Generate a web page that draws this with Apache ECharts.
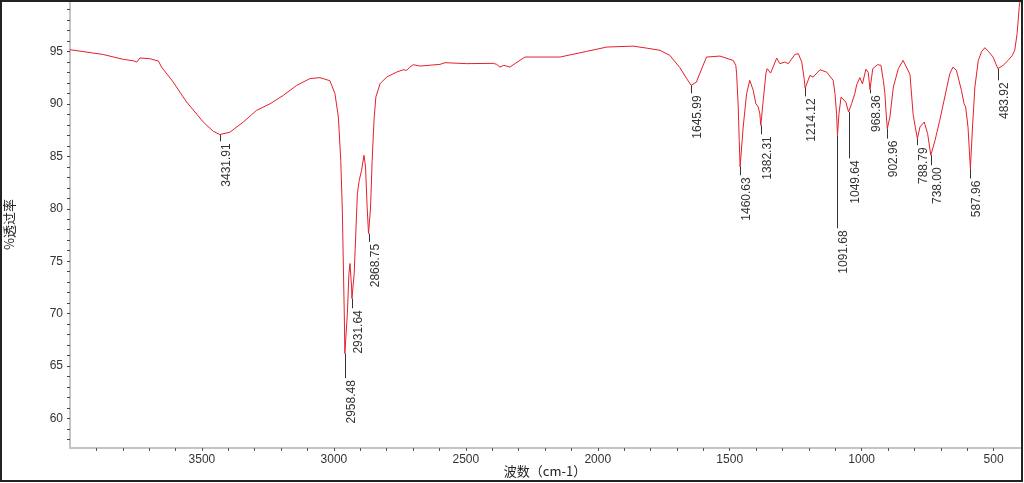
<!DOCTYPE html>
<html>
<head>
<meta charset="utf-8">
<script src="https://cdn.jsdelivr.net/npm/echarts@6/dist/echarts.min.js"></script>
<style>
  html, body { margin: 0; padding: 0; background: #fff; }
  #main { width: 1024px; height: 483px; }
</style>
</head>
<body>
<div id="main"></div>
<script>
// 红外光谱：波数 / 透过率
const wavenumber = [
  4000, 3874, 3798, 3760, 3747, 3735, 3697, 3665, 3653, 3609, 3558, 3495, 3457, 3431.91, 3394, 3343, 3293, 3242,
  3192, 3141, 3091, 3053, 3015, 2996, 2983, 2974, 2968, 2964, 2960, 2958.48, 2949, 2943, 2939, 2933, 2931.64,
  2923, 2916, 2911, 2904, 2895, 2886, 2880, 2874, 2868.75, 2861, 2855, 2848, 2841, 2825, 2800, 2762, 2737, 2724,
  2712, 2699, 2674, 2598, 2579, 2497, 2396, 2383, 2371, 2356, 2333, 2314, 2276, 2219, 2143, 2042, 1966, 1866,
  1815, 1764, 1727, 1689, 1663, 1645.99, 1626, 1619, 1588, 1537, 1487, 1477, 1474, 1468, 1464, 1460.63, 1449,
  1436, 1424, 1411, 1401, 1392, 1386, 1382.31, 1373, 1363, 1358, 1345, 1322, 1310, 1291, 1278, 1253, 1240, 1227,
  1218, 1214.12, 1196, 1184, 1158, 1133, 1108, 1101, 1095, 1091.68, 1086, 1078, 1060, 1049.64, 1038, 1026, 1019,
  1007, 997, 984, 975, 968.36, 958, 940, 927, 918, 912, 908, 902.96, 893, 880, 861, 843, 836, 817, 805, 797,
  788.79, 779, 763, 750, 738.0, 722, 704, 685, 666, 654, 641, 622, 612, 608, 606, 597, 587.96, 580, 571, 558,
  545, 533, 520, 502, 483.92, 464, 445, 429, 420, 411, 403, 400
]
const transmittance = [
  95.16, 94.7, 94.24, 94.1, 93.98, 94.37, 94.3, 94.08, 93.5, 92.08, 90.17, 88.27, 87.38, 87.07, 87.3, 88.27, 89.38, 90.0,
  90.8, 91.76, 92.4, 92.5, 92.2, 90.97, 88.74, 84.6, 79.86, 74.46, 69.1, 66.2, 70.0, 73.83, 74.78, 72.55, 71.45,
  73.83, 78.27, 81.45, 82.71, 83.67, 85.1, 83.98, 80.17, 77.64, 80.17, 84.6, 88.43, 90.65, 91.92, 92.55, 93.03, 93.25, 93.19,
  93.5, 93.73, 93.6, 93.76, 93.92, 93.83, 93.86, 93.76, 93.5, 93.67, 93.5, 93.83, 94.46, 94.46, 94.46, 95.0, 95.41, 95.5,
  95.31, 95.1, 94.62, 93.45, 92.4, 91.76, 92.08, 92.55, 94.46, 94.55, 94.14, 93.67, 92.9, 89.9, 86.5, 83.98, 87.79,
  90.97, 92.24, 91.29, 90.02, 89.7, 89.07, 87.95, 90.33, 92.88, 93.35, 92.93, 94.36, 93.83, 93.98, 93.83, 94.71, 94.78, 93.98,
  92.4, 91.5, 92.71, 92.55, 93.25, 93.03, 92.24, 90.97, 89.0, 87.0, 89.07, 90.65, 90.17, 89.22, 90.02, 90.97, 91.8,
  92.5, 91.9, 93.3, 93.0, 91.35, 93.35, 93.73, 93.67, 92.24, 91.0, 89.38, 87.64, 88.74, 91.6, 93.35, 94.14, 94.14, 92.8, 89.0, 87.8,
  86.68, 87.8, 88.27, 87.16, 85.1, 86.52, 88.43, 90.65, 92.88, 93.5, 93.19, 91.29, 90.02, 89.9, 89.7, 87.79, 83.83, 87.79, 91.6, 94.14,
  95.0, 95.35, 95.0, 94.46, 93.35, 93.67, 94.14, 94.62, 95.1, 96.68, 99.2, 99.8
]

// 峰位标注
const peakWavenumber = [3431.91, 2958.48, 2931.64, 2868.75, 1645.99, 1460.63, 1382.31, 1214.12, 1091.68, 1049.64, 968.36, 902.96, 788.79, 738.00, 587.96, 483.92]
const peakTransmittance = [87.07, 66.2, 71.45, 77.64, 91.76, 83.98, 87.95, 91.5, 87.0, 89.22, 91.35, 87.64, 86.68, 85.1, 83.83, 93.35]
const peakLabelEnd = [86.43, 63.86, 70.52, 76.84, 91.0, 83.19, 87.1, 90.71, 78.14, 84.81, 91.0, 86.69, 86.05, 84.14, 82.88, 92.24]

const xTickLabels = [500, 1000, 1500, 2000, 2500, 3000, 3500]
const yTickLabels = [60, 65, 70, 75, 80, 85, 90, 95]

const xMinorTicks = []
for (let v = 500; v <= 3900; v += 100) xMinorTicks.push(v)
const yMinorTicks = []
for (let v = 58; v <= 99; v += 1) yMinorTicks.push(v)

const myChart = echarts.init(document.getElementById('main'))
const labelFont = '12px "Liberation Sans", "DejaVu Sans", sans-serif'

const options = {
  animation: false,
  backgroundColor: '#fff',
  grid: {
    left: 70,
    right: 4,
    top: 1,
    bottom: 35,
    outerBoundsMode: 'none',
    containLabel: false
  },
  xAxis: {
    type: 'value',
    inverse: true,
    min: 400,
    max: 4000,
    name: '波数（cm-1）',
    nameLocation: 'middle',
    nameGap: 17,
    nameMoveOverlap: false,
    nameTextStyle: { color: '#222', fontSize: 13, fontFamily: 'Noto Sans CJK SC' },
    axisLine: { show: true, lineStyle: { color: '#c4c4c4', width: 2 } },
    axisTick: { show: true, customValues: xMinorTicks, length: 3, lineStyle: { color: '#555' } },
    axisLabel: {
      customValues: xTickLabels,
      formatter: v => String(v),
      color: '#333',
      fontSize: 12,
      fontFamily: 'Liberation Sans',
      margin: 6
    },
    splitLine: { show: false }
  },
  yAxis: {
    type: 'value',
    min: 57.2,
    max: 99.8,
    name: '%透过率',
    nameLocation: 'middle',
    nameGap: 54,
    nameMoveOverlap: false,
    nameRotate: 90,
    nameTextStyle: { color: '#222', fontSize: 13, fontFamily: 'Noto Sans CJK SC' },
    axisLine: { show: true, lineStyle: { color: '#c4c4c4', width: 2 } },
    axisTick: { show: true, customValues: yMinorTicks, length: 3, lineStyle: { color: '#444' } },
    axisLabel: {
      customValues: yTickLabels,
      formatter: v => String(v),
      color: '#333',
      fontSize: 12,
      fontFamily: 'Liberation Sans',
      margin: 7
    },
    splitLine: { show: false }
  },
  graphic: [{
    type: 'rect',
    silent: true,
    z: 100,
    shape: { x: 1, y: 1, width: 1021, height: 480 },
    style: { fill: 'none', stroke: '#222', lineWidth: 2 }
  }],
  series: [
    {
      name: 'spectrum',
      type: 'line',
      showSymbol: false,
      smooth: false,
      lineStyle: { color: '#e3202b', width: 1 },
      data: wavenumber.map((w, i) => [w, transmittance[i]])
    },
    {
      name: 'peaks',
      type: 'custom',
      data: peakWavenumber.map((w, i) => [w, peakTransmittance[i], peakLabelEnd[i]]),
      encode: { x: 0, y: 1 },
      renderItem(params, api) {
        const top = api.coord([api.value(0), api.value(1)])
        const end = api.coord([api.value(0), api.value(2)])
        const x = Math.round(top[0]) + 0.5
        return {
          type: 'group',
          children: [
            {
              type: 'line',
              shape: { x1: x, y1: top[1], x2: x, y2: end[1] },
              style: { stroke: '#333', lineWidth: 1 }
            },
            {
              type: 'text',
              x: x,
              y: end[1] + 2,
              rotation: Math.PI / 2,
              style: {
                text: peakWavenumber[params.dataIndex].toFixed(2),
                align: 'right',
                verticalAlign: 'top',
                fill: '#333',
                font: labelFont
              }
            }
          ]
        }
      }
    }
  ]
}

myChart.setOption(options)
</script>
</body>
</html>
